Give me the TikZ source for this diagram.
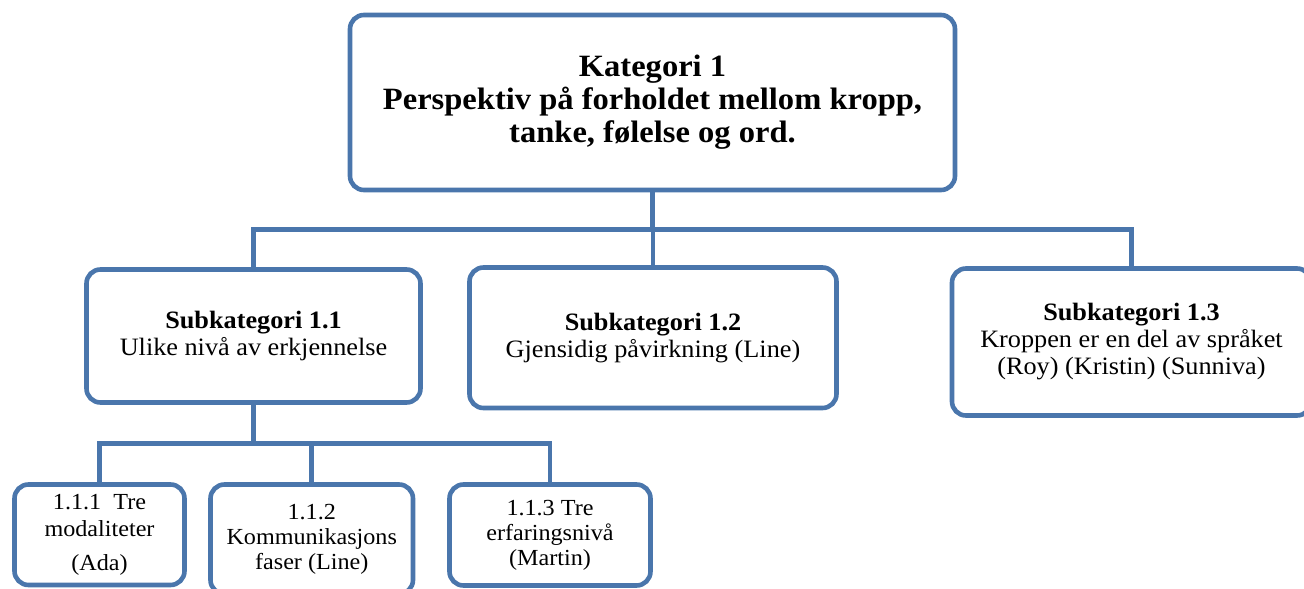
\documentclass[tikz,border=0pt]{standalone}
\usepackage{fontspec}
\setmainfont[FakeStretch=1.05]{Liberation Serif}
\definecolor{bl}{HTML}{4A76AC}
\begin{document}
\begin{tikzpicture}[x=1pt,y=-1pt,
  box/.style={draw=bl, line width=4.6pt, rounded corners=14pt, fill=white,
    align=center, inner sep=0pt, outer sep=0pt},
  conn/.style={draw=bl, line width=4.6pt},
  ftop/.style={font=\fontsize{31}{33}\selectfont\bfseries},
  fsub/.style={font=\fontsize{25}{27}\selectfont},
  fbot/.style={font=\fontsize{23}{25}\selectfont}]
\useasboundingbox (0,0) rectangle (1304,589);
\clip (0,0) rectangle (1304,589);
% boxes
\node[box, ftop, minimum width=605pt, minimum height=175pt] (top) at (652.5,102.5)
  {Kategori 1\\Perspektiv på forholdet mellom kropp,\\tanke, følelse og ord.};
\node[box, fsub, minimum width=334pt, minimum height=133pt] (s11) at (253.5,336)
  {\textbf{Subkategori 1.1}\\Ulike nivå av erkjennelse};
\node[box, fsub, minimum width=367pt, minimum height=140.5pt] (s12) at (653,337.75)
  {\textbf{Subkategori 1.2}\\Gjensidig påvirkning (Line)};
\node[box, fsub, minimum width=359pt, minimum height=147pt] (s13) at (1131.5,342)
  {\textbf{Subkategori 1.3}\\Kroppen er en del av språket\\(Roy) (Kristin) (Sunniva)};
\node[box, fbot, minimum width=170pt, minimum height=100.5pt] (b1) at (99.5,534.75)
  {1.1.1~~Tre\\[2pt]modaliteter\\[9pt](Ada)};
\node[box, fbot, minimum width=202.5pt, minimum height=109.5pt] (b2) at (311.75,539.25)
  {1.1.2\\Kommunikasjons\\faser (Line)};
\node[box, fbot, minimum width=201pt, minimum height=101pt] (b3) at (550,535)
  {1.1.3 Tre\\erfaringsnivå\\(Martin)};
% connectors
\coordinate (hub) at (652.5,229.5);
\coordinate (hub2) at (253.5,443.5);
\draw[conn] (top.south) -- (hub);
\draw[conn] (s11.north) |- (hub) -| (s13.north);
\draw[conn] (s12.north) -- (s12.north |- hub);
\draw[conn] (s11.south) -- (hub2);
\draw[conn] (b1.north) |- (hub2) -| (b3.north);
\draw[conn] (b2.north) -- (b2.north |- hub2);
\end{tikzpicture}
\end{document}
